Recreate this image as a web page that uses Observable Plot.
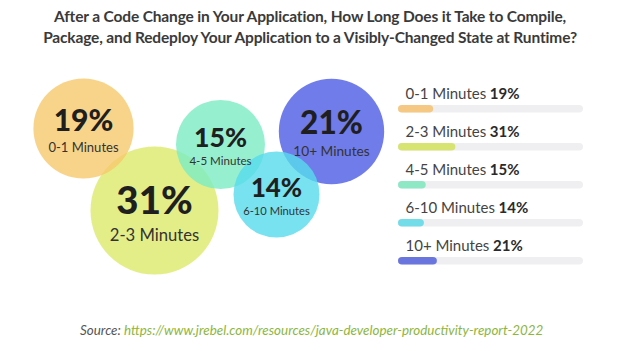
<!DOCTYPE html>
<html><head><meta charset="utf-8">
<script src="https://cdn.jsdelivr.net/npm/d3@7"></script>
<script src="https://cdn.jsdelivr.net/npm/@observablehq/plot@0.6"></script>
<style>
body{margin:0;background:#fff;font-family:Lato,sans-serif;width:640px;height:351px;overflow:hidden;position:relative;}
#title{position:absolute;left:0;top:6px;width:620px;text-align:center;font-size:15.5px;font-weight:700;color:#3a3a3a;line-height:21px;letter-spacing:-0.15px;}
#bubbles{position:absolute;left:0;top:55px;}
#bars{position:absolute;left:390px;top:55px;}
#caption{position:absolute;left:80px;top:322px;font-size:13.4px;font-style:italic;color:#555;line-height:16px;}
#caption span{color:#8db63c}
</style></head><body>
<div id="title">After a Code Change in Your Application, How Long Does it Take to Compile,<br>Package, and Redeploy Your Application to a Visibly-Changed State at Runtime?</div>
<div id="bubbles"></div><div id="bars"></div>
<div id="caption">Source: <span>https://www.jrebel.com/resources/java-developer-productivity-report-2022</span></div>
<script>
// data
const categories = ["0-1 Minutes", "2-3 Minutes", "4-5 Minutes", "6-10 Minutes", "10+ Minutes"];
const shares = [19, 31, 15, 14, 21];
const colors = ["#f6c96d", "#ddea6a", "#7cecc4", "#56dbec", "#4c5be4"];
const barColors = ["#f5c983", "#d8e471", "#8ee8c5", "#72dde9", "#6a76dd"];
// bubble layout (centres in layout units of the bubble panel)
const bubbleX = [83, 154, 220, 276, 331];
const bubbleY = [73, 155, 89, 139, 76];

const rows = categories.map((c, i) => ({category: c, value: shares[i], cx: bubbleX[i], cy: bubbleY[i]}));
const rad = d3.scaleSqrt().domain([0, 31]).range([0, 64]);

const bubbles = Plot.plot({
  width: 400, height: 260, margin: 0,
  style: {fontFamily: "Lato, sans-serif", background: "transparent"},
  x: {domain: [0, 400], axis: null},
  y: {domain: [0, 260], range: [0, 260], axis: null},
  r: {type: "sqrt", domain: [0, 31], range: [0, 64]},
  color: {domain: categories, range: colors},
  marks: [
    Plot.dot(rows, {x: "cx", y: "cy", r: "value", fill: "category", fillOpacity: 0.8, stroke: null}),
    Plot.text(rows, {x: "cx", y: d => d.cy + 0.05 * rad(d.value), text: d => d.value + "%", lineAnchor: "bottom",
      fontSize: d => 0.6 * rad(d.value), fontWeight: 900, fill: "#1f1f1f"}),
    Plot.text(rows, {x: "cx", y: d => d.cy + 0.47 * rad(d.value), text: "category", lineAnchor: "bottom",
      fontSize: d => 0.26 * rad(d.value), fill: "#333", letterSpacing: "-0.3px"})
  ]
});
document.getElementById("bubbles").appendChild(bubbles);

const bars = Plot.plot({
  width: 250, height: 260, margin: 0,
  style: {fontFamily: "Lato, sans-serif", background: "transparent"},
  x: {domain: [0, 100], range: [8, 193], axis: null},
  y: {type: "band", domain: categories, range: [24, 216.5], padding: 0, axis: null},
  color: {domain: categories, range: barColors},
  marks: [
    Plot.barX(rows, {y: "category", x1: 0, x2: 100, fill: "#efeff2", insetTop: 25, insetBottom: 5.5, rx: 4}),
    Plot.barX(rows, {y: "category", x1: 0, x2: "value", fill: "category", insetTop: 25, insetBottom: 5.5, rx: 4}),
    Plot.text(rows, {y: "category", x: 0, dx: 7, dy: -5, text: "category", textAnchor: "start", fontSize: 15, fill: "#444"})
  ]
});
document.getElementById("bars").appendChild(bars);
// bold percentage appended to each legend label
const labelNodes = bars.querySelectorAll('g[aria-label="text"] text');
labelNodes.forEach((t, i) => {
  const ts = document.createElementNS("http://www.w3.org/2000/svg", "tspan");
  ts.setAttribute("font-weight", "700");
  ts.setAttribute("fill", "#2a2a2a");
  ts.textContent = " " + rows[i].value + "%";
  t.appendChild(ts);
});
</script>
</body></html>
